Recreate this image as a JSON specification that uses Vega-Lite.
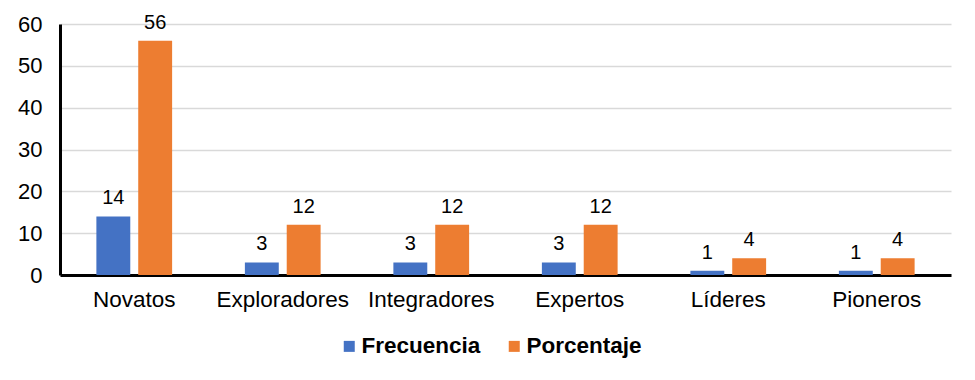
{
  "$schema": "https://vega.github.io/schema/vega-lite/v6.json",
  "autosize": "none",
  "width": 891,
  "height": 251,
  "padding": {"left": 60, "top": 24, "right": 24, "bottom": 105},
  "background": "white",
  "config": {
    "view": {"stroke": null},
    "font": "Liberation Sans"
  },
  "data": {
    "values": [
      {"Categoria": "Novatos", "Serie": "Frecuencia", "Valor": 14},
      {"Categoria": "Novatos", "Serie": "Porcentaje", "Valor": 56},
      {"Categoria": "Exploradores", "Serie": "Frecuencia", "Valor": 3},
      {"Categoria": "Exploradores", "Serie": "Porcentaje", "Valor": 12},
      {"Categoria": "Integradores", "Serie": "Frecuencia", "Valor": 3},
      {"Categoria": "Integradores", "Serie": "Porcentaje", "Valor": 12},
      {"Categoria": "Expertos", "Serie": "Frecuencia", "Valor": 3},
      {"Categoria": "Expertos", "Serie": "Porcentaje", "Valor": 12},
      {"Categoria": "Líderes", "Serie": "Frecuencia", "Valor": 1},
      {"Categoria": "Líderes", "Serie": "Porcentaje", "Valor": 4},
      {"Categoria": "Pioneros", "Serie": "Frecuencia", "Valor": 1},
      {"Categoria": "Pioneros", "Serie": "Porcentaje", "Valor": 4}
    ]
  },
  "encoding": {
    "x": {
      "field": "Categoria",
      "type": "nominal",
      "sort": ["Novatos", "Exploradores", "Integradores", "Expertos", "Líderes", "Pioneros"],
      "scale": {"paddingInner": 0.49, "paddingOuter": 0.245},
      "axis": {
        "title": null,
        "labelAngle": 0,
        "labelFontSize": 22.5,
        "labelColor": "#000000",
        "labelPadding": 13,
        "ticks": false,
        "domainColor": "#000000",
        "domainWidth": 3,
        "grid": false
      }
    },
    "xOffset": {
      "field": "Serie",
      "type": "nominal",
      "sort": ["Frecuencia", "Porcentaje"],
      "scale": {"paddingInner": 0.19, "paddingOuter": 0}
    },
    "y": {
      "field": "Valor",
      "type": "quantitative",
      "scale": {"domain": [0, 60], "nice": false},
      "axis": {
        "title": null,
        "values": [0, 10, 20, 30, 40, 50, 60],
        "labelFontSize": 22,
        "labelColor": "#000000",
        "labelPadding": 18,
        "ticks": false,
        "domainColor": "#000000",
        "domainWidth": 3,
        "gridColor": "#d9d9d9",
        "gridWidth": 1.5
      }
    }
  },
  "layer": [
    {
      "mark": {"type": "bar"},
      "encoding": {
        "color": {
          "field": "Serie",
          "type": "nominal",
          "sort": ["Frecuencia", "Porcentaje"],
          "scale": {"domain": ["Frecuencia", "Porcentaje"], "range": ["#4472C4", "#ED7D31"]},
          "legend": {
            "title": null,
            "orient": "none",
            "legendX": 278,
            "legendY": 311,
            "padding": 0,
            "direction": "horizontal",
            "symbolType": "square",
            "symbolSize": 121,
            "symbolStrokeWidth": 0,
            "labelFontSize": 22.5,
            "labelFontWeight": "bold",
            "labelColor": "#000000",
            "labelOffset": 1,
            "columnPadding": 22
          }
        }
      }
    },
    {
      "mark": {"type": "text", "baseline": "alphabetic", "dy": -12, "fontSize": 20, "color": "#000000"},
      "encoding": {
        "text": {"field": "Valor", "type": "quantitative"}
      }
    }
  ]
}
